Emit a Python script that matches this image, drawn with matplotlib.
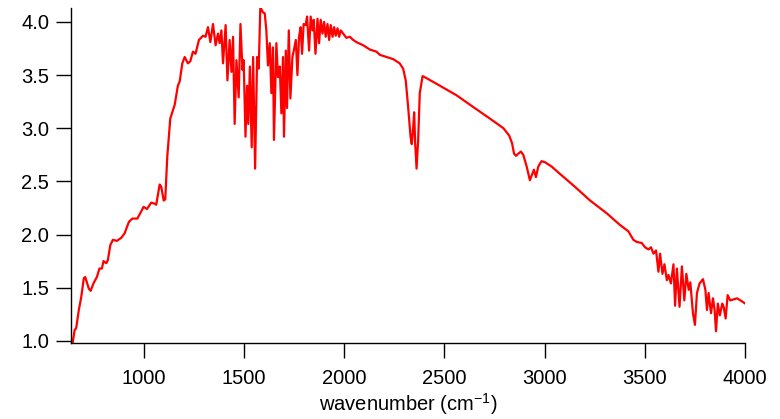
import matplotlib
matplotlib.use('Agg')
import matplotlib.pyplot as plt

plt.rcParams['font.family'] = ['Liberation Sans', 'DejaVu Sans']
plt.rcParams['mathtext.fontset'] = 'custom'
plt.rcParams['mathtext.rm'] = 'Liberation Sans'

# spectrum (wavenumber in cm-1, signal)
wavenumber = [
  647, 656, 664, 677, 689, 702, 709, 727, 736, 750, 767, 780, 792, 800, 814, 822,
  834, 847, 867, 889, 905, 927, 944, 969, 989, 1000, 1017, 1038, 1055, 1063, 1080,
  1088, 1100, 1108, 1118, 1133, 1155, 1171, 1180, 1193, 1205, 1221, 1233, 1246,
  1259, 1276, 1296, 1309, 1321, 1333, 1346, 1359, 1371, 1379, 1388, 1396, 1409,
  1418, 1429, 1438, 1446, 1454, 1463, 1474, 1483, 1493, 1499, 1508, 1516, 1522,
  1530, 1539, 1546, 1556, 1566, 1574, 1582, 1595, 1604, 1612, 1620, 1629, 1637,
  1645, 1650, 1662, 1670, 1679, 1687, 1695, 1700, 1709, 1715, 1724, 1732, 1742,
  1749, 1759, 1767, 1775, 1783, 1790, 1798, 1808, 1815, 1825, 1833, 1842, 1848,
  1857, 1867, 1875, 1883, 1892, 1900, 1908, 1917, 1925, 1933, 1942, 1950, 1958,
  1967, 1975, 1983, 1995, 2011, 2028, 2045, 2061, 2095, 2128, 2161, 2178, 2244,
  2277, 2294, 2307, 2319, 2331, 2337, 2344, 2349, 2354, 2361, 2369, 2377, 2391,
  2402, 2477, 2560, 2643, 2727, 2794, 2823, 2837, 2847, 2857, 2868, 2881, 2893,
  2910, 2926, 2938, 2946, 2956, 2968, 2984, 3001, 3034, 3076, 3150, 3226, 3309,
  3375, 3417, 3442, 3459, 3484, 3500, 3517, 3530, 3542, 3555, 3567, 3575, 3587,
  3597, 3609, 3617, 3629, 3642, 3650, 3659, 3672, 3684, 3696, 3706, 3718, 3726,
  3739, 3749, 3759, 3772, 3789, 3801, 3809, 3817, 3829, 3839, 3847, 3854, 3863,
  3873, 3885, 3892, 3902, 3912, 3925, 3942, 3959, 3976, 4000]
signal = [
  0.99, 1.10, 1.12, 1.29, 1.41, 1.59, 1.60, 1.49, 1.47, 1.54, 1.60, 1.68, 1.68, 1.75, 1.73, 1.76,
  1.90, 1.95, 1.94, 1.97, 2.01, 2.12, 2.15, 2.15, 2.22, 2.26, 2.24, 2.30, 2.29, 2.28, 2.47,
  2.45, 2.32, 2.33, 2.73, 3.09, 3.22, 3.40, 3.44, 3.61, 3.67, 3.61, 3.63, 3.72,
  3.70, 3.83, 3.87, 3.86, 3.95, 3.81, 3.98, 3.78, 3.89, 3.80, 3.92, 3.61, 3.97,
  3.45, 3.83, 3.53, 3.86, 3.04, 3.64, 3.29, 3.98, 3.55, 3.64, 2.92, 3.40, 3.04,
  3.58, 2.82, 3.67, 2.62, 3.67, 3.56, 4.14, 4.09, 4.08, 3.92, 3.59, 3.80, 3.33,
  3.76, 2.89, 3.80, 3.48, 3.58, 3.14, 3.67, 2.92, 3.73, 3.19, 3.92, 3.28, 3.67,
  3.73, 3.83, 3.50, 3.86, 3.95, 3.70, 3.98, 3.97, 4.05, 3.73, 4.05, 3.92, 4.02,
  3.70, 4.03, 3.80, 4.02, 3.89, 4.00, 3.86, 3.98, 3.83, 3.97, 3.86, 3.95, 3.87,
  3.94, 3.86, 3.92, 3.89, 3.85, 3.86, 3.83, 3.81, 3.78, 3.74, 3.72, 3.69, 3.65,
  3.61, 3.56, 3.45, 3.20, 2.92, 2.85, 3.00, 3.15, 2.86, 2.62, 2.89, 3.33, 3.49,
  3.48, 3.40, 3.31, 3.20, 3.09, 3.00, 2.93, 2.86, 2.76, 2.74, 2.76, 2.78, 2.75,
  2.64, 2.51, 2.57, 2.61, 2.54, 2.64, 2.69, 2.68, 2.64, 2.57, 2.45, 2.32, 2.20,
  2.09, 2.03, 1.95, 1.93, 1.92, 1.88, 1.86, 1.88, 1.82, 1.85, 1.65, 1.82, 1.63,
  1.72, 1.57, 1.62, 1.54, 1.72, 1.33, 1.68, 1.32, 1.70, 1.38, 1.63, 1.48, 1.55,
  1.26, 1.15, 1.45, 1.54, 1.58, 1.48, 1.29, 1.45, 1.26, 1.40, 1.29, 1.09, 1.35,
  1.24, 1.35, 1.32, 1.21, 1.43, 1.38, 1.39, 1.40, 1.38, 1.35]

xticks = [1000, 1500, 2000, 2500, 3000, 3500, 4000]
yticks = [1.0, 1.5, 2.0, 2.5, 3.0, 3.5, 4.0]

fig = plt.figure(figsize=(7.8, 4.19), dpi=100)
ax = fig.add_axes([0.0905, 0.181, 0.865, 0.801])
ax.plot(wavenumber, signal, color='red', lw=1.6)

ax.set_xlim(636, 4000)
ax.set_ylim(0.978, 4.135)
ax.set_xticks(xticks)
ax.set_yticks(yticks)
ax.set_yticklabels([f'{v:.1f}' for v in yticks])

for s in ['top', 'right']:
  ax.spines[s].set_visible(False)
for s in ['left', 'bottom']:
  ax.spines[s].set_linewidth(1.0)
ax.tick_params(axis='both', direction='out', length=10.5, width=1.0, labelsize=14.5)
ax.tick_params(axis='x', pad=8)
ax.tick_params(axis='y', pad=5)

ax.set_xlabel('wavenumber (cm$^{\\mathrm{-1}}$)', fontsize=14.5, labelpad=2)

fig.savefig('out.png', dpi=100)
